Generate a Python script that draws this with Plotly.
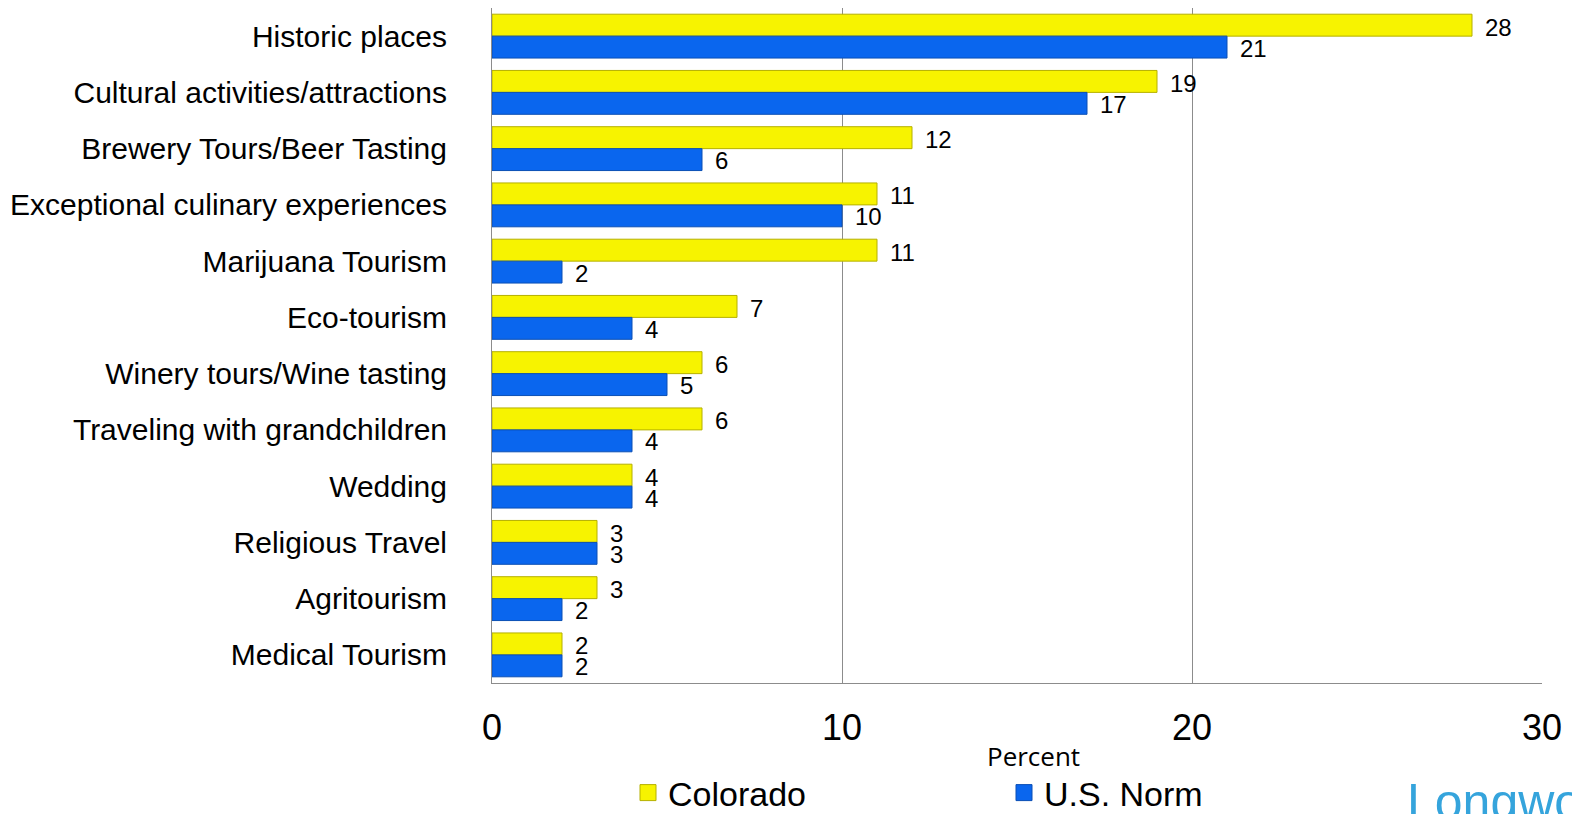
import plotly.graph_objects as go

# categories top to bottom
activities = ['Historic places', 'Cultural activities/attractions', 'Brewery Tours/Beer Tasting',
              'Exceptional culinary experiences', 'Marijuana Tourism', 'Eco-tourism',
              'Winery tours/Wine tasting', 'Traveling with grandchildren', 'Wedding',
              'Religious Travel', 'Agritourism', 'Medical Tourism']
colorado = [28, 19, 12, 11, 11, 7, 6, 6, 4, 3, 3, 2]
us_norm = [21, 17, 6, 10, 2, 4, 5, 4, 4, 3, 2, 2]
x_ticks = [0, 10, 20, 30]

YELLOW, YELLOW_EDGE = '#F7F300', '#B5B000'
BLUE, BLUE_EDGE = '#0A66EE', '#0A4FB5'

# page pixels -> figure; the html body adds an 8px offset
OFF = 8
W, H = 1580, 814
L, T = 492 - OFF, 0
R, B = W - (1542 - OFF), H - (683 - OFF)
pw, ph = W - L - R, H - T - B


def px_x(x):
    return (x - OFF - L) / pw


def px_y(y):
    return (H - B - (y - OFF)) / ph


fig = go.Figure()

fig.add_trace(go.Bar(y=activities, x=colorado, orientation='h', name='Colorado', showlegend=False,
                     marker=dict(color=YELLOW, line=dict(color=YELLOW_EDGE, width=1))))
fig.add_trace(go.Bar(y=activities, x=us_norm, orientation='h', name='U.S. Norm', showlegend=False,
                     marker=dict(color=BLUE, line=dict(color=BLUE_EDGE, width=1))))

# legend entries with bigger square swatches
fig.add_trace(go.Scatter(x=[None], y=[None], mode='markers', name='Colorado',
                         marker=dict(symbol='square', size=19, color=YELLOW,
                                     line=dict(color=YELLOW_EDGE, width=1))))
fig.add_trace(go.Scatter(x=[None], y=[None], mode='markers', name='U.S. Norm',
                         marker=dict(symbol='square', size=19, color=BLUE,
                                     line=dict(color=BLUE_EDGE, width=1))))

# value labels just past the end of each bar
annots = []
for cat, v in zip(activities, colorado):
    annots.append(dict(x=v, y=cat, text=str(v), showarrow=False, xanchor='left',
                       xshift=11, yshift=9, font=dict(size=24, color='black')))
for cat, v in zip(activities, us_norm):
    annots.append(dict(x=v, y=cat, text=str(v), showarrow=False, xanchor='left',
                       xshift=11, yshift=-12, font=dict(size=24, color='black')))

annots.append(dict(x=px_x(1033), y=px_y(756), xref='paper', yref='paper', text='Percent',
                   showarrow=False, xanchor='center', yanchor='middle',
                   font=dict(family='Open Sans, sans-serif', size=26, color='black')))
annots.append(dict(x=px_x(1405), y=px_y(772), xref='paper', yref='paper', text='Longwoods',
                   showarrow=False, xanchor='left', yanchor='top',
                   font=dict(family='Liberation Sans, Arial', size=50, color='#35A4DC')))

fig.update_layout(
    annotations=annots,
    width=W, height=H,
    paper_bgcolor='white', plot_bgcolor='white',
    margin=dict(l=L, r=R, t=T, b=B, autoexpand=False),
    barmode='group', bargap=0.22, bargroupgap=0,
    font=dict(family='Liberation Sans, Arial, sans-serif', color='black'),
    showlegend=True,
    legend=dict(orientation='h', xref='container', yref='container',
                x=620 / W, y=1 - 785 / H, xanchor='left', yanchor='middle',
                entrywidth=331, entrywidthmode='pixels', itemwidth=30,
                font=dict(size=34, family='Liberation Sans, Arial'),
                bgcolor='rgba(0,0,0,0)'),
)

fig.update_xaxes(range=[0, 30], tickvals=x_ticks, showgrid=True, gridcolor='#8C8C8C', gridwidth=1,
                 showline=True, linecolor='#8C8C8C', linewidth=1, zeroline=False, automargin=False,
                 ticks='', tickfont=dict(size=36, family='Liberation Sans, Arial'),
                 ticklabelstandoff=13)
fig.update_yaxes(autorange='reversed', showline=True, linecolor='#8C8C8C', linewidth=1,
                 showgrid=False, ticks='', ticklabelstandoff=38, automargin=False,
                 tickfont=dict(size=30, family='Liberation Sans, Arial'))

fig.write_html("out.html")
